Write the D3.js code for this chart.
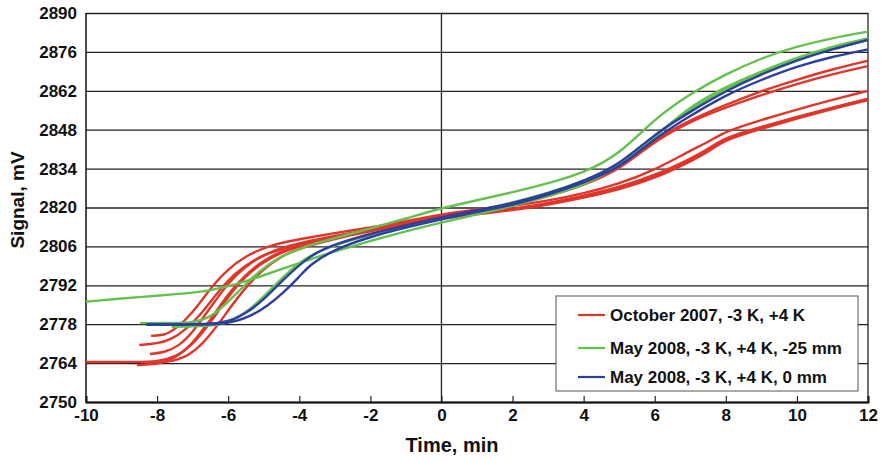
<!DOCTYPE html>
<html>
<head>
<meta charset="utf-8">
<script src="https://d3js.org/d3.v7.min.js"></script>
<style>
  body { margin: 0; background: #fff; }
  svg { display: block; font-family: "Liberation Sans", Arial, Helvetica, sans-serif; font-weight: bold; }
</style>
</head>
<body>
<svg id="chart" width="883" height="461"></svg>
<script>
// tick values
const xTicks = [-10, -8, -6, -4, -2, 0, 2, 4, 6, 8, 10, 12];
const yTicks = [2750, 2764, 2778, 2792, 2806, 2820, 2834, 2848, 2862, 2876, 2890];

// October 2007, -3 K, +4 K  (red runs) : [time min, signal mV]
const oct07_1 = [[-10,2764.4],[-8.5,2764.4],[-8,2764.6],[-7.5,2766],[-7,2770.5],[-6.5,2778.5],[-6,2788],[-5.5,2795.5],[-5,2800.5],[-4.5,2803.8],[-4,2806],[-3,2809.2],[-2,2811.8],[-1,2814.2],[0,2816.5],[1,2818],[2,2819.5],[3,2821.6],[4,2824.2],[5,2827.3],[6,2831.5],[7,2837.5],[7.5,2841],[8,2845.3],[9,2849],[10,2852.6],[11,2856],[12,2859.2]];
const oct07_2 = [[-8.57,2763.3],[-8,2763.5],[-7.5,2765.5],[-7,2771],[-6.5,2779.5],[-6,2789],[-5.5,2796],[-5,2801],[-4.5,2804.3],[-4,2806.3],[-3,2809.3],[-2,2811.8],[-1,2814],[0,2816.2],[1,2817.8],[2,2819.2],[3,2821.3],[4,2823.8],[5,2827],[6,2831],[7,2837],[7.5,2840.5],[8,2845],[9,2848.5],[10,2852.3],[11,2855.8],[12,2859]];
const oct07_3 = [[-8.5,2770.5],[-8,2771],[-7.6,2772.5],[-7.2,2776],[-6.8,2781],[-6.3,2789.5],[-5.8,2796.5],[-5.3,2801],[-4.8,2804],[-4,2806.8],[-3,2809.5],[-2,2812],[-1,2814.5],[0,2817],[1,2819],[2,2820.5],[3,2822.5],[4,2825],[5,2828.5],[6,2833.5],[7,2840.5],[7.5,2843.5],[8,2847.5],[9,2851.5],[10,2855.3],[11,2858.8],[12,2862]];
const oct07_4 = [[-8.17,2773.8],[-7.8,2774],[-7.5,2776],[-7,2782],[-6.5,2791],[-6,2798],[-5.5,2802.5],[-5,2805.5],[-4.5,2807.3],[-4,2808.6],[-3,2810.8],[-2,2812.8],[-1,2815],[0,2817.5],[1,2819.3],[2,2821],[3,2824.3],[4,2828.5],[5,2834],[6,2844.5],[7,2851.5],[8,2857],[9,2862],[10,2866],[11,2869.8],[12,2872.8]];
const oct07_5 = [[-8.2,2767.3],[-7.8,2767.8],[-7.4,2770],[-7,2775],[-6.5,2784],[-6,2793],[-5.5,2799],[-5,2803],[-4.5,2805.5],[-4,2807.2],[-3,2809.8],[-2,2812],[-1,2814.3],[0,2816.8],[1,2818.8],[2,2820.8],[3,2824],[4,2828],[5,2833.5],[6,2844],[7,2851],[8,2856],[9,2860.5],[10,2864.5],[11,2868],[12,2870.9]];
const oct07_6 = [[-8.3,2764],[-7.5,2764.5],[-7,2767.5],[-6.5,2774],[-6,2783],[-5.5,2791.5],[-5,2798],[-4.5,2802.5],[-4,2805.3],[-3,2808.8],[-2,2811.5],[-1,2813.8],[0,2816],[1,2817.6],[2,2819],[3,2821],[4,2823.5],[5,2826.5],[6,2830.5],[7,2836.5],[7.5,2840],[8,2844.5],[9,2848.3],[10,2852],[11,2855.5],[12,2858.6]];

// May 2008, -3 K, +4 K, -25 mm  (green runs)
const may08far_1 = [[-10,2786.1],[-9,2787.3],[-8,2788.2],[-7,2789.3],[-6.5,2790.2],[-6,2791.6],[-5.5,2793.5],[-5,2795.6],[-4.5,2797.8],[-4,2800],[-3.5,2802.2],[-3,2804.2],[-2,2808],[-1,2811.5],[0,2814.6],[1,2817.5],[2,2820.5],[3,2824],[4,2828],[5,2834.5],[6,2845.5],[7,2856.5],[8,2863.5],[9,2869],[10,2874],[11,2878],[12,2880.9]];
const may08far_2 = [[-8.48,2778.4],[-7.5,2778.4],[-7,2778.6],[-6.6,2780],[-6.23,2783.1],[-5.67,2790.3],[-5.1,2797.5],[-4.54,2802.3],[-3.98,2805.3],[-3.5,2807.3],[-3,2809],[-2,2812.5],[-1,2816],[0,2819.8],[1,2822.6],[2,2825.5],[3,2828.7],[4,2832.5],[5,2839],[6,2852],[7,2861],[8,2868],[9,2873.8],[10,2878],[11,2881],[12,2883.3]];
const may08far_3 = [[-7.59,2777],[-7,2777.2],[-6.5,2777.5],[-6.15,2777.9],[-5.8,2780],[-5.39,2783.1],[-4.82,2790.3],[-4.26,2797.5],[-3.7,2802.9],[-3,2806.5],[-2,2810.3],[-1,2813.3],[0,2816],[1,2818.8],[2,2821.8],[3,2825.2],[4,2829.5],[5,2835],[6,2846],[7,2855.5],[8,2862.8],[9,2868.5],[10,2873.3],[11,2877.3],[12,2880.5]];

// May 2008, -3 K, +4 K, 0 mm  (blue runs)
const may08near_1 = [[-8.3,2778],[-7,2778],[-6.3,2778.2],[-5.86,2779.5],[-5.5,2782],[-5.1,2785.6],[-4.46,2793.9],[-3.7,2802.9],[-3,2806.8],[-2,2810.6],[-1,2813.6],[0,2816.5],[1,2819],[2,2821.5],[3,2825],[4,2829.5],[5,2835.3],[6,2846.5],[7,2854.5],[8,2862],[9,2868],[10,2873],[11,2877],[12,2880.3]];
const may08near_2 = [[-8.3,2777.8],[-7,2777.8],[-6,2778],[-5.39,2780.7],[-4.9,2784.5],[-4.46,2789.2],[-4,2795],[-3.7,2799.5],[-3,2805],[-2,2809.5],[-1,2812.8],[0,2815.8],[1,2818.5],[2,2820.8],[3,2824.5],[4,2829],[5,2834],[6,2845],[7,2853],[8,2860.5],[9,2866],[10,2870.8],[11,2874.3],[12,2876.9]];

const groups = [
  { label: "October 2007, -3 K, +4 K", color: "#e2352a", runs: [oct07_1, oct07_2, oct07_3, oct07_4, oct07_5, oct07_6] },
  { label: "May 2008, -3 K, +4 K, -25 mm", color: "#62c24c", runs: [may08far_1, may08far_2, may08far_3] },
  { label: "May 2008, -3 K, +4 K, 0 mm", color: "#2c3f9f", runs: [may08near_1, may08near_2] }
];

const W = 883, H = 461;
const margin = { top: 13, right: 15, bottom: 59, left: 86 };
const w = W - margin.left - margin.right;
const h = H - margin.top - margin.bottom;

const svg = d3.select("#chart");
const g = svg.append("g").attr("transform", `translate(${margin.left},${margin.top})`);

const x = d3.scaleLinear().domain([-10, 12]).range([0, w]);
const y = d3.scaleLinear().domain([2750, 2890]).range([h, 0]);

// horizontal grid + y labels
const yAxis = g.append("g")
  .call(d3.axisLeft(y).tickValues(yTicks).tickSize(-w).tickPadding(9).tickFormat(d => String(d)));
yAxis.select(".domain").remove();
yAxis.selectAll(".tick line").attr("stroke", "#222").attr("stroke-width", 1.3);
yAxis.selectAll(".tick text").attr("fill", "#111").style("font-size", "17px").style("font-weight", "bold")
  .style("font-family", "'Liberation Sans', Arial, sans-serif");

// zero line and right border
g.append("line").attr("x1", x(0)).attr("x2", x(0)).attr("y1", 0).attr("y2", h)
  .attr("stroke", "#222").attr("stroke-width", 1.3);
g.append("line").attr("x1", x(12)).attr("x2", x(12)).attr("y1", 0).attr("y2", h)
  .attr("stroke", "#222").attr("stroke-width", 1.3);
g.append("line").attr("x1", 0).attr("x2", 0).attr("y1", 0).attr("y2", h)
  .attr("stroke", "#111").attr("stroke-width", 1.5);

// curves
const line = d3.line()
  .x(d => x(d[0]))
  .y(d => y(d[1]))
  .curve(d3.curveBasis);

groups.forEach(grp => {
  g.append("g").selectAll("path")
    .data(grp.runs)
    .join("path")
    .attr("d", line)
    .attr("fill", "none")
    .attr("stroke", grp.color)
    .attr("stroke-width", 2.4);
});

// bottom axis
const xAxis = g.append("g")
  .attr("transform", `translate(0,${h})`)
  .call(d3.axisBottom(x).tickValues(xTicks).tickSize(-6).tickPadding(7).tickFormat(d => String(d)));
xAxis.select(".domain").attr("stroke", "#111").attr("stroke-width", 2);
xAxis.selectAll(".tick line").attr("stroke", "#222").attr("stroke-width", 1.2);
xAxis.selectAll(".tick text").attr("fill", "#111").style("font-size", "17px").style("font-weight", "bold")
  .style("font-family", "'Liberation Sans', Arial, sans-serif");

// axis titles
svg.append("text")
  .attr("x", 452).attr("y", 452)
  .attr("text-anchor", "middle")
  .attr("fill", "#111")
  .style("font-size", "20px")
  .text("Time, min");

svg.append("text")
  .attr("transform", "translate(24,200) rotate(-90)")
  .attr("text-anchor", "middle")
  .attr("fill", "#111")
  .style("font-size", "19px")
  .text("Signal, mV");

// legend
const legend = svg.append("g").attr("transform", "translate(556,296)");
legend.append("rect")
  .attr("width", 302).attr("height", 95)
  .attr("fill", "#fff").attr("stroke", "#555").attr("stroke-width", 1);

const rows = legend.selectAll("g.row")
  .data(groups)
  .join("g")
  .attr("class", "row")
  .attr("transform", (d, i) => `translate(0,${[19, 52, 81][i]})`);

rows.append("line")
  .attr("x1", 22).attr("x2", 49)
  .attr("stroke", d => d.color).attr("stroke-width", 2.2);

rows.append("text")
  .attr("x", 54).attr("dy", "0.35em")
  .attr("fill", "#111")
  .style("font-size", "17px")
  .text(d => d.label);
</script>
</body>
</html>
